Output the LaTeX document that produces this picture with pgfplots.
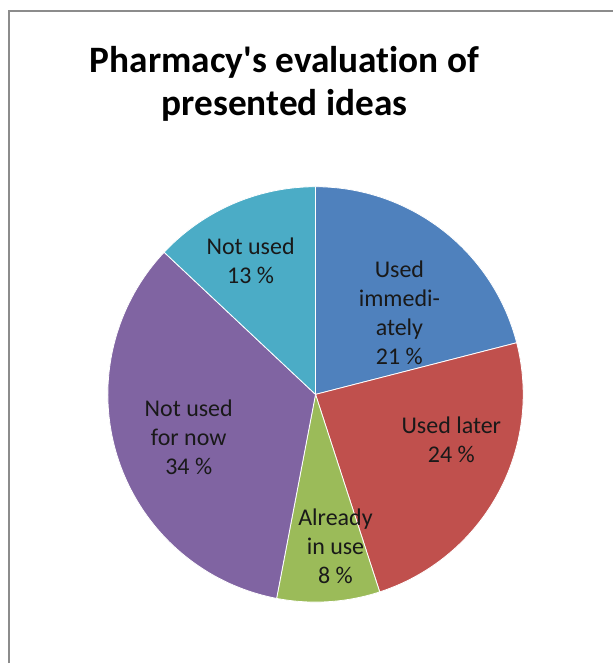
\documentclass[border=0pt]{standalone}
\usepackage{pgfplots}
\pgfplotsset{compat=1.18}
\usepackage{fontspec}
\setmainfont{Carlito}[Ligatures={TeXOff,NoCommon}]
\definecolor{cblue}{HTML}{4F81BD}
\definecolor{cred}{HTML}{C0504D}
\definecolor{cgreen}{HTML}{9BBB59}
\definecolor{cpurple}{HTML}{8064A2}
\definecolor{cteal}{HTML}{4BACC6}
\definecolor{frame}{HTML}{8C8C8C}
\begin{document}
\begin{tikzpicture}
\begin{axis}[
  scale only axis, width=460.5pt, height=498pt,
  xmin=0, xmax=614, ymin=0, ymax=664,
  hide axis, clip=false,
  every axis plot/.append style={draw=white, line width=0.6pt, samples=80, variable=\t},
]
\fill[white] (axis cs:0,0) rectangle (axis cs:614,664);
% slices: domain in percent (cumulative), clockwise from 12 o'clock
% Used immediately 21, Used later 24, Already in use 8, Not used for now 34, Not used 13
\addplot[fill=cblue, domain=0:21]  ({316+208*cos(90-3.6*\t)},{269+208*sin(90-3.6*\t)}) -- (axis cs:316,269) -- cycle;
\addplot[fill=cred, domain=21:45]  ({316+208*cos(90-3.6*\t)},{269+208*sin(90-3.6*\t)}) -- (axis cs:316,269) -- cycle;
\addplot[fill=cgreen, domain=45:53] ({316+208*cos(90-3.6*\t)},{269+208*sin(90-3.6*\t)}) -- (axis cs:316,269) -- cycle;
\addplot[fill=cpurple, domain=53:87] ({316+208*cos(90-3.6*\t)},{269+208*sin(90-3.6*\t)}) -- (axis cs:316,269) -- cycle;
\addplot[fill=cteal, domain=87:100] ({316+208*cos(90-3.6*\t)},{269+208*sin(90-3.6*\t)}) -- (axis cs:316,269) -- cycle;
\draw[frame, line width=1.5pt] (axis cs:9,0) -- (axis cs:9,653) -- (axis cs:614,653);
\node[font=\fontsize{28pt}{32pt}\selectfont\bfseries, align=center] at (axis cs:285,580) {Pharmacy's evaluation of\\presented ideas};
\begin{scope}[every node/.style={font=\fontsize{18pt}{21.75pt}\selectfont, align=center, text=black!90}]
\node at (axis cs:400,351) {Used\\immedi-\\ately\\21 \%};
\node at (axis cs:452,224) {Used later\\24 \%};
\node at (axis cs:336,117) {Already\\in use\\8 \%};
\node at (axis cs:189,226) {Not used\\for now\\34 \%};
\node at (axis cs:251,403) {Not used\\13 \%};
\end{scope}
\end{axis}
\end{tikzpicture}
\end{document}
